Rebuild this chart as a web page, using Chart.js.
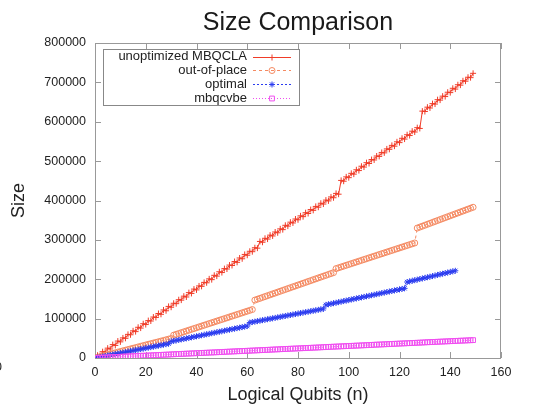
<!DOCTYPE html>
<html>
<head>
<meta charset="utf-8">
<title>Size Comparison</title>
<script src="https://cdn.jsdelivr.net/npm/chart.js@4.4.1/dist/chart.umd.min.js"></script>
<style>
  html, body { margin: 0; padding: 0; background: #fff; }
  #wrap { width: 533px; height: 406px; overflow: hidden; }
  canvas { display: block; }
</style>
</head>
<body>
<div id="wrap"><canvas id="sizeChart" width="533" height="406"></canvas></div>
<script>
// logical qubits n
const qubits = [1,2,3,4,5,6,7,8,9,10,11,12,13,14,15,16,17,18,19,20,21,22,23,24,25,26,27,28,29,30,
  31,32,33,34,35,36,37,38,39,40,41,42,43,44,45,46,47,48,49,50,51,52,53,54,55,56,57,58,59,60,
  61,62,63,64,65,66,67,68,69,70,71,72,73,74,75,76,77,78,79,80,81,82,83,84,85,86,87,88,89,90,
  91,92,93,94,95,96,97,98,99,100,101,102,103,104,105,106,107,108,109,110,111,112,113,114,115,116,117,118,119,120,
  121,122,123,124,125,126,127,128,129,130,131,132,133,134,135,136,137,138,139,140,141,142,143,144,145,146,147,148,149];

const unoptimized = [7000,6000,16000,15000,25000,23000,34000,32000,43000,41000,
  51000,50000,60000,59000,69000,67000,78000,76000,87000,85000,
  95000,94000,104000,103000,113000,111000,122000,120000,131000,129000,
  139000,138000,148000,147000,157000,155000,166000,164000,175000,173000,
  183000,182000,192000,191000,201000,199000,210000,208000,219000,217000,
  227000,226000,236000,235000,245000,243000,254000,252000,263000,261000,
  271000,270000,280000,279000,
  296000,294000,304000,302000,312000,310000,320000,318000,328000,326000,337000,335000,345000,343000,353000,351000,
  361000,359000,369000,367000,377000,375000,385000,383000,393000,391000,401000,399000,409000,407000,418000,416000,
  451000,449000,460000,458000,469000,467000,478000,476000,487000,485000,496000,494000,504000,503000,513000,512000,
  522000,521000,531000,530000,540000,538000,549000,547000,558000,556000,567000,565000,576000,574000,585000,583000,
  627000,626000,637000,635000,646000,645000,656000,655000,665000,664000,675000,674000,685000,683000,694000,693000,
  704000,703000,713000,712000,723000];

const outOfPlace = [1650,3300,5000,6600,8300,9900,11600,13200,14900,16500,
  18200,19800,21500,23100,24800,26400,28100,29700,31400,33000,
  34700,36300,38000,39600,41300,42900,44600,46200,47900,49500,
  58000,60100,62200,64300,66400,68500,70600,72700,74800,76900,79000,81100,83200,85300,87400,89500,
  91600,93700,95800,97900,100000,102100,104200,106300,108400,110500,112600,114700,116800,118900,121000,123100,
  147000,149300,151500,153800,156000,158300,160500,162800,165000,167300,169500,171800,174000,176300,178500,180800,
  183000,185300,187500,189800,192000,194300,196500,198800,201000,203300,205500,207800,210000,212300,214500,216800,
  227000,229100,231200,233300,235400,237500,239600,241700,243800,245900,248000,250100,252200,254300,256400,258500,
  260600,262700,264800,266900,269000,271100,273200,275300,277400,279500,281600,283700,285800,287900,290000,292100,
  330000,332400,334800,337200,339600,342000,344400,346800,349200,351600,354000,356400,358800,361200,363600,366000,
  368400,370800,373200,375600,378000,380400,382800];

// optimal stops at n = 142
const optimal = [1300,2500,3800,5000,6300,7500,8800,10000,11300,12500,
  13800,15000,16300,17500,18800,20000,21300,22500,23800,25000,
  26300,27500,28800,30000,31300,32500,33800,35000,36300,
  42000,43300,44600,45900,47200,48500,49800,51100,52400,53700,55000,56300,57600,58900,60200,61500,
  62800,64100,65400,66700,68000,69300,70600,71900,73200,74500,75800,77100,78400,79700,81000,
  90000,91200,92400,93600,94800,96000,97200,98400,99600,100800,102000,103200,104400,105600,106800,
  108000,109200,110400,111600,112800,114000,115200,116400,117600,118800,120000,121200,122400,123600,124800,
  135000,136400,137700,139100,140400,141800,143100,144500,145800,147200,148500,149900,151200,152600,153900,155300,
  156600,158000,159300,160700,162000,163400,164700,166100,167400,168800,170100,171500,172800,174200,175500,176900,
  193000,194500,196000,197500,199000,200500,202000,203500,205000,206500,
  208000,209500,211000,212500,214000,215500,217000,218500,220000,221500];

const mbqcvbe = [300,600,900,1200,1500,1800,2100,2400,2700,3100,3400,3700,4000,4300,4600,4900,5200,5500,5800,6100,
  6400,6700,7000,7300,7600,7900,8200,8500,8800,9200,9500,9800,10100,10400,10700,11000,11300,11600,11900,12200,
  12500,12800,13100,13400,13700,14000,14300,14600,14900,15300,15600,15900,16200,16500,16800,17100,17400,17700,18000,18300,
  18600,18900,19200,19500,19800,20100,20400,20700,21000,21400,21700,22000,22300,22600,22900,23200,23500,23800,24100,24400,
  24700,25000,25300,25600,25900,26200,26500,26800,27100,27500,27800,28100,28400,28700,29000,29300,29600,29900,30200,30500,
  30800,31100,31400,31700,32000,32300,32600,32900,33200,33600,33900,34200,34500,34800,35100,35400,35700,36000,36300,36600,
  36900,37200,37500,37800,38100,38400,38700,39000,39300,39700,40000,40300,40600,40900,41200,41500,41800,42100,42400,42700,
  43000,43300,43600,43900,44200,44500,44800,45100,45400];

const xTicks = [0, 20, 40, 60, 80, 100, 120, 140, 160];
const yTicks = [0, 100000, 200000, 300000, 400000, 500000, 600000, 700000, 800000];

const FONT = '"Liberation Sans", Arial, Helvetica, sans-serif';
Chart.defaults.font.family = FONT;
Chart.defaults.color = '#222';

function toPoints(values) {
  return values.map((v, i) => ({ x: qubits[i], y: v }));
}

// gnuplot style: box frame, inward ticks, key box, title
const gnuplotFrame = {
  id: 'gnuplotFrame',
  beforeDraw(chart) {
    const ctx = chart.ctx;
    ctx.save();
    ctx.fillStyle = '#fff';
    ctx.fillRect(0, 0, chart.width, chart.height);
    ctx.restore();
  },
  beforeDatasetsDraw(chart) {
    const { ctx, chartArea: a, scales: { x, y } } = chart;
    ctx.save();
    ctx.strokeStyle = '#999';
    ctx.lineWidth = 1;
    ctx.strokeRect(a.left + 0.5, a.top + 0.5, a.right - a.left - 1, a.bottom - a.top);
    ctx.beginPath();
    xTicks.forEach(v => {
      const px = Math.round(x.getPixelForValue(v)) + 0.5;
      ctx.moveTo(px, a.bottom); ctx.lineTo(px, a.bottom - 6);
      ctx.moveTo(px, a.top); ctx.lineTo(px, a.top + 6);
    });
    yTicks.forEach(v => {
      const py = Math.round(y.getPixelForValue(v)) + 0.5;
      ctx.moveTo(a.left, py); ctx.lineTo(a.left + 6, py);
      ctx.moveTo(a.right, py); ctx.lineTo(a.right - 6, py);
    });
    ctx.stroke();

    // title
    ctx.fillStyle = '#1a1a1a';
    ctx.font = '25px ' + FONT;
    ctx.textAlign = 'center';
    ctx.textBaseline = 'alphabetic';
    ctx.fillText('Size Comparison', (a.left + a.right) / 2, 30);

    // cut-off label at the far left
    ctx.font = '12.5px ' + FONT;
    ctx.textAlign = 'left';
    ctx.textBaseline = 'middle';
    ctx.fillStyle = '#222';
    ctx.fillText('0', -5, 368);
    ctx.restore();
  },
  afterDatasetsDraw(chart) {
    const ctx = chart.ctx;
    const sets = chart.data.datasets.slice().sort((p, q) => p.keyRow - q.keyRow);
    ctx.save();
    ctx.strokeStyle = '#888';
    ctx.lineWidth = 1;
    ctx.strokeRect(103.5, 49.5, 196, 56);
    ctx.font = '13px ' + FONT;
    ctx.textAlign = 'right';
    ctx.textBaseline = 'middle';
    sets.forEach((ds, i) => {
      const yy = 56.5 + i * 13.9;
      ctx.fillStyle = '#222';
      ctx.fillText(ds.label, 247, yy);
      ctx.strokeStyle = ds.borderColor;
      ctx.lineWidth = 1;
      ctx.setLineDash(ds.borderDash || []);
      ctx.beginPath();
      ctx.moveTo(253, Math.round(yy) + 0.5);
      ctx.lineTo(291, Math.round(yy) + 0.5);
      ctx.stroke();
      ctx.setLineDash([]);
      ctx.strokeStyle = ds.borderColor;
      ctx.fillStyle = ds.pointBackgroundColor;
      Chart.helpers.drawPoint(ctx, {
        pointStyle: ds.pointStyle, radius: ds.pointRadius,
        borderWidth: 1, rotation: 0
      }, 272, Math.round(yy) + 0.5);
    });
    ctx.restore();
  }
};

const clear = 'rgba(0,0,0,0)';

new Chart(document.getElementById('sizeChart'), {
  type: 'line',
  data: {
    datasets: [
      {
        label: 'mbqcvbe', keyRow: 3, order: 0,
        data: toPoints(mbqcvbe),
        borderColor: '#f04ef0', borderWidth: 1, borderDash: [1, 2],
        pointStyle: 'rect', pointRadius: 3.4, pointBorderWidth: 1,
        pointBorderColor: '#f04ef0', pointBackgroundColor: clear
      },
      {
        label: 'optimal', keyRow: 2, order: 1,
        data: toPoints(optimal),
        borderColor: '#2b3cf0', borderWidth: 1, borderDash: [2, 2],
        pointStyle: 'star', pointRadius: 3, pointBorderWidth: 1,
        pointBorderColor: '#2b3cf0', pointBackgroundColor: '#2b3cf0'
      },
      {
        label: 'out-of-place', keyRow: 1, order: 2,
        data: toPoints(outOfPlace),
        borderColor: '#f58a62', borderWidth: 1, borderDash: [3, 3],
        pointStyle: 'circle', pointRadius: 3, pointBorderWidth: 1,
        pointBorderColor: '#f58a62', pointBackgroundColor: clear
      },
      {
        label: 'unoptimized MBQCLA', keyRow: 0, order: 3,
        data: toPoints(unoptimized),
        borderColor: '#f03c28', borderWidth: 1,
        pointStyle: 'cross', pointRadius: 3, pointBorderWidth: 1,
        pointBorderColor: '#f03c28', pointBackgroundColor: '#f03c28'
      }
    ]
  },
  options: {
    responsive: false,
    animation: false,
    layout: { padding: { top: 43, right: 32, left: 0, bottom: 0 } },
    plugins: {
      legend: { display: false },
      tooltip: { enabled: false }
    },
    elements: { line: { tension: 0 } },
    scales: {
      x: {
        type: 'linear', min: 0, max: 160,
        afterFit: s => { s.height = 48; },
        afterBuildTicks: s => { s.ticks = xTicks.map(v => ({ value: v })); },
        grid: { display: false, drawTicks: false },
        border: { display: false },
        ticks: { padding: 7, font: { size: 12.5 }, color: '#222', callback: v => String(v) },
        title: { display: true, text: 'Logical Qubits (n)', font: { size: 18 }, color: '#222', padding: { top: 2, bottom: 0 } }
      },
      y: {
        type: 'linear', min: 0, max: 800000,
        afterFit: s => { s.width = 95; },
        afterBuildTicks: s => { s.ticks = yTicks.map(v => ({ value: v })); },
        grid: { display: false, drawTicks: false },
        border: { display: false },
        ticks: { padding: 9, font: { size: 12.5 }, color: '#222', callback: v => String(v) },
        title: { display: true, text: 'Size', font: { size: 18 }, color: '#222', padding: { top: 8, bottom: 0 } }
      }
    }
  },
  plugins: [gnuplotFrame]
});
</script>
</body>
</html>
